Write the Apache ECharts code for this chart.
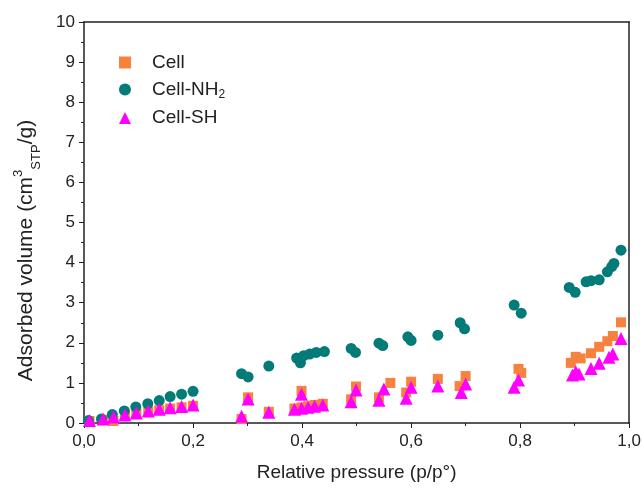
<!DOCTYPE html>
<html>
<head>
<meta charset="utf-8">
<script src="https://cdn.jsdelivr.net/npm/echarts@6/dist/echarts.min.js"></script>
<style>
  html, body { margin: 0; padding: 0; background: #fff; }
  #chart { width: 644px; height: 490px; }
</style>
</head>
<body>
<div id="chart"></div>
<script>
// relative pressure / adsorbed volume
const cellX = [0.01, 0.035, 0.054, 0.075, 0.096, 0.118, 0.138, 0.158, 0.179, 0.2,
    0.289, 0.301, 0.339, 0.386, 0.399, 0.399, 0.411, 0.423, 0.438,
    0.49, 0.499, 0.541, 0.562, 0.591, 0.6, 0.649, 0.689, 0.7, 0.797, 0.802,
    0.893, 0.902, 0.911, 0.93, 0.945, 0.96, 0.97, 0.985]
const cellY = [0.05, 0.08, 0.05, 0.2, 0.24, 0.28, 0.32, 0.36, 0.39, 0.43,
    0.1, 0.64, 0.28, 0.36, 0.8, 0.39, 0.42, 0.45, 0.48,
    0.59, 0.91, 0.64, 1.0, 0.76, 1.03, 1.10, 0.92, 1.17, 1.35, 1.25,
    1.50, 1.65, 1.61, 1.74, 1.90, 2.04, 2.17, 2.51]

const nh2X = [0.008, 0.032, 0.052, 0.074, 0.095, 0.117, 0.138, 0.158, 0.179, 0.2,
    0.289, 0.301, 0.339, 0.39, 0.397, 0.403, 0.414, 0.426, 0.441,
    0.49, 0.498, 0.541, 0.548, 0.594, 0.6, 0.649, 0.69, 0.698, 0.789, 0.802,
    0.89, 0.901, 0.921, 0.93, 0.945, 0.96, 0.968, 0.972, 0.985]
const nh2Y = [0.06, 0.1, 0.21, 0.3, 0.4, 0.48, 0.56, 0.66, 0.72, 0.79,
    1.23, 1.15, 1.42, 1.62, 1.5, 1.68, 1.72, 1.76, 1.78,
    1.86, 1.76, 1.99, 1.93, 2.15, 2.06, 2.19, 2.5, 2.35, 2.94, 2.74,
    3.38, 3.26, 3.52, 3.55, 3.57, 3.77, 3.9, 3.98, 4.31]

const shX = [0.01, 0.035, 0.054, 0.075, 0.096, 0.118, 0.138, 0.158, 0.179, 0.2,
    0.289, 0.301, 0.339, 0.386, 0.399, 0.399, 0.411, 0.423, 0.438,
    0.49, 0.499, 0.541, 0.55, 0.591, 0.6, 0.649, 0.692, 0.7, 0.789, 0.797,
    0.896, 0.902, 0.908, 0.93, 0.945, 0.963, 0.97, 0.985]
const shY = [0.06, 0.1, 0.15, 0.2, 0.25, 0.3, 0.34, 0.38, 0.41, 0.45,
    0.17, 0.6, 0.27, 0.34, 0.72, 0.37, 0.39, 0.42, 0.45,
    0.53, 0.82, 0.57, 0.85, 0.62, 0.89, 0.92, 0.76, 0.97, 0.89, 1.07,
    1.20, 1.28, 1.22, 1.36, 1.49, 1.64, 1.72, 2.11]

const seriesNames = ['Cell', 'Cell-NH2', 'Cell-SH']

function pairs(xs, ys) {
    return xs.map((x, i) => [x, ys[i]])
}

const font = 'Liberation Sans, Arial, sans-serif'
let chartDom = document.getElementById('chart')
let myChart = echarts.init(chartDom)

let option = {
    animation: false,
    grid: {left: 84, right: 14, top: 22, bottom: 67},
    legend: {
        orient: 'vertical',
        left: 114,
        top: 48,
        itemWidth: 12,
        itemHeight: 12,
        itemGap: 8,
        data: seriesNames,
        formatter: function (name) {
            if (name === 'Cell-NH2') return '{t|Cell-NH}{s|2}'
            return '{t|' + name + '}'
        },
        textStyle: {
            fontFamily: font,
            fontSize: 19,
            color: '#222',
            rich: {
                t: {fontFamily: font, fontSize: 19, color: '#222', padding: [0, 0, 0, 16], lineHeight: 22},
                s: {fontFamily: font, fontSize: 12, color: '#222', verticalAlign: 'bottom', lineHeight: 12}
            }
        }
    },
    xAxis: [{
        type: 'value',
        min: 0, max: 1, interval: 0.2,
        name: 'Relative pressure (p/p°)',
        nameLocation: 'middle',
        nameGap: 40,
        nameTextStyle: {fontFamily: font, fontSize: 19, color: '#222'},
        axisLine: {onZero: false, lineStyle: {color: '#222', width: 1.5}},
        axisTick: {inside: false, length: 5, lineStyle: {color: '#222'}},
        minorTick: {show: true, splitNumber: 2, length: 3, lineStyle: {color: '#222'}},
        splitLine: {show: false},
        axisLabel: {
            fontFamily: font, fontSize: 17, color: '#222', margin: 10,
            formatter: v => v.toFixed(1).replace('.', ',')
        }
    }, {
        type: 'value', position: 'top', min: 0, max: 1,
        axisLine: {show: true, onZero: false, lineStyle: {color: '#222', width: 1.5}},
        axisTick: {show: false}, axisLabel: {show: false}, splitLine: {show: false}
    }],
    yAxis: [{
        type: 'value',
        min: 0, max: 10, interval: 1,
        name: '{t|Adsorbed volume (cm}{sup|3}{sub|STP}{t|/g)}',
        nameLocation: 'middle',
        nameGap: 44,
        nameTextStyle: {
            fontFamily: font, fontSize: 21, color: '#222',
            padding: [0, 56, 0, 0],
            rich: {
                t: {fontFamily: font, fontSize: 21, color: '#222', lineHeight: 28},
                sup: {fontFamily: font, fontSize: 13, color: '#222', verticalAlign: 'top', lineHeight: 28, padding: [0, 0, 4, 0]},
                sub: {fontFamily: font, fontSize: 13, color: '#222', verticalAlign: 'bottom', lineHeight: 28, padding: [0, 0, -3, 0]}
            }
        },
        axisLine: {onZero: false, lineStyle: {color: '#222', width: 1.5}},
        axisTick: {inside: false, length: 5, lineStyle: {color: '#222'}},
        minorTick: {show: true, splitNumber: 2, length: 3, lineStyle: {color: '#222'}},
        splitLine: {show: false},
        axisLabel: {fontFamily: font, fontSize: 17, color: '#222', margin: 9}
    }, {
        type: 'value', position: 'right', min: 0, max: 10,
        axisLine: {show: true, onZero: false, lineStyle: {color: '#222', width: 1.5}},
        axisTick: {show: false}, axisLabel: {show: false}, splitLine: {show: false}
    }],
    series: [{
        name: 'Cell',
        type: 'scatter',
        symbol: 'rect',
        symbolSize: 10,
        itemStyle: {color: '#F7823E', opacity: 1},
        data: pairs(cellX, cellY)
    }, {
        name: 'Cell-NH2',
        type: 'scatter',
        symbol: 'circle',
        symbolSize: 11,
        itemStyle: {color: '#037B78', opacity: 1},
        data: pairs(nh2X, nh2Y)
    }, {
        name: 'Cell-SH',
        type: 'scatter',
        symbol: 'triangle',
        symbolSize: 13,
        itemStyle: {color: '#FF00FF', opacity: 1},
        data: pairs(shX, shY)
    }]
}

myChart.setOption(option)
</script>
</body>
</html>
